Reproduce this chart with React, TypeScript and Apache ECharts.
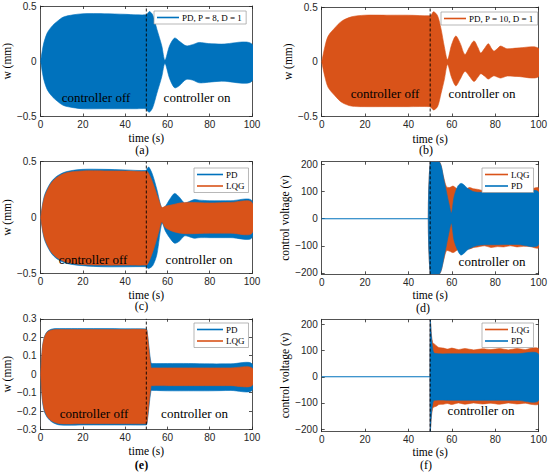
import React, { useEffect, useRef } from "react";
import * as echarts from "echarts";

// ---------- data (envelopes of the dense oscillations) ----------
const BLUE = "#0072BD";
const ORANGE = "#D95319";
const switchTime = 50;

// (a) PD, P = 8, D = 1
const tA = [0, 0.9, 1.7, 3.2, 5.5, 7.8, 10.8, 15.4, 20, 30, 40, 45, 49.9, 50.5, 51.5, 53, 55, 57.3, 58.8, 61, 63.4, 65.7, 68.8, 71.8, 75, 79.4, 85.5, 100];
const upA = [0, 0.11, 0.18, 0.26, 0.32, 0.36, 0.4, 0.42, 0.43, 0.43, 0.425, 0.42, 0.42, 0.43, 0.45, 0.42, 0.29, 0.14, 0.01, 0.14, 0.21, 0.18, 0.14, 0.15, 0.17, 0.16, 0.155, 0.155];
const loA = [0, -0.11, -0.18, -0.26, -0.32, -0.36, -0.4, -0.42, -0.43, -0.43, -0.43, -0.43, -0.43, -0.45, -0.46, -0.42, -0.29, -0.14, -0.02, -0.155, -0.24, -0.22, -0.165, -0.17, -0.195, -0.19, -0.18, -0.18];

// (b) PD, P = 10, D = 1
const tB = [0, 1.5, 3, 6.1, 9.2, 13.7, 19.8, 30, 40, 49.9, 50.5, 51.6, 53.4, 55, 56.5, 58, 59.8, 61.8, 63.8, 66, 68, 70.2, 72, 73.3, 75, 76.8, 78.3, 79.4, 81, 82.4, 84, 85.5, 90, 100];
const upB = [0, 0.14, 0.235, 0.31, 0.37, 0.41, 0.425, 0.425, 0.425, 0.42, 0.43, 0.457, 0.42, 0.3, 0.14, 0.02, 0.15, 0.235, 0.17, 0.066, 0.13, 0.19, 0.13, 0.08, 0.12, 0.165, 0.12, 0.097, 0.12, 0.143, 0.13, 0.118, 0.125, 0.12];
const loB = [0, -0.14, -0.235, -0.31, -0.37, -0.405, -0.41, -0.41, -0.41, -0.41, -0.42, -0.44, -0.41, -0.29, -0.165, -0.026, -0.14, -0.22, -0.16, -0.088, -0.13, -0.18, -0.14, -0.109, -0.13, -0.158, -0.14, -0.128, -0.14, -0.149, -0.14, -0.13, -0.134, -0.134];

// (c) PD and LQG displacement
const tC1 = [0, 1.7, 4.7, 7.8, 12.3, 20, 30, 40, 49.9, 50.5, 51.2, 53, 55, 57.4, 59, 61, 63.4, 65.7, 68, 70, 72.6, 75, 80, 90, 100];
const upC1 = [0, 0.19, 0.31, 0.37, 0.41, 0.43, 0.43, 0.425, 0.42, 0.44, 0.45, 0.38, 0.25, 0.08, 0.1, 0.16, 0.215, 0.18, 0.13, 0.14, 0.16, 0.155, 0.15, 0.15, 0.15];
const loC1 = [0, -0.19, -0.31, -0.37, -0.41, -0.43, -0.44, -0.44, -0.44, -0.45, -0.455, -0.43, -0.33, -0.05, -0.12, -0.18, -0.23, -0.21, -0.165, -0.17, -0.185, -0.18, -0.18, -0.18, -0.18];
const tC2 = [0, 1.7, 4.7, 7.8, 12.3, 20, 30, 40, 49.9, 50.5, 52, 54, 56, 57.3, 59, 62.6, 66, 70, 80, 90, 100];
const upC2 = [0, 0.175, 0.3, 0.36, 0.4, 0.416, 0.416, 0.415, 0.41, 0.41, 0.36, 0.26, 0.15, 0.09, 0.1, 0.115, 0.13, 0.135, 0.13, 0.135, 0.135];
const loC2 = [0, -0.175, -0.3, -0.36, -0.4, -0.42, -0.425, -0.425, -0.425, -0.42, -0.36, -0.25, -0.12, -0.04, -0.09, -0.125, -0.14, -0.145, -0.14, -0.14, -0.14];

// (d) control voltage
const tD0 = [0, 50];
const vD0 = [0, 0];
const tD1 = [50, 54.2, 56.5, 58.8, 59.8, 61, 62.6, 64.1, 65.5, 67.2, 70.2, 73.3, 80, 90, 100];
const upD1 = [215, 215, 136, 50, 20, 80, 118, 130, 125, 112, 99, 97, 97, 97, 97];
const loD1 = [-215, -215, -136, -45, -17, -80, -115, -134, -128, -115, -103, -97, -96, -95, -96];
const tD2 = [50, 54.2, 56, 57.5, 59, 60.5, 62, 64, 66, 68, 70, 72, 75, 78, 81, 84, 87, 90, 93, 96, 100];
const upD2 = [215, 215, 160, 118, 115, 120, 112, 102, 105, 115, 110, 108, 103, 110, 104, 108, 103, 107, 104, 108, 112];
const loD2 = [-215, -215, -160, -118, -120, -125, -118, -108, -108, -112, -106, -104, -100, -106, -103, -104, -100, -104, -102, -103, -106];

// (e) PD and LQG displacement
const tE = [0, 0.8, 1.7, 3.2, 5.5, 9, 20, 30, 40, 49.9, 50.3, 52.2, 53, 60, 70, 80, 90, 100];
const upE1 = [0, 0.14, 0.2, 0.232, 0.245, 0.247, 0.247, 0.247, 0.246, 0.245, 0.24, 0.062, 0.058, 0.058, 0.058, 0.056, 0.056, 0.056];
const loE1 = [0, -0.14, -0.2, -0.235, -0.26, -0.275, -0.275, -0.275, -0.275, -0.275, -0.27, -0.09, -0.088, -0.09, -0.09, -0.09, -0.088, -0.088];
const upE2 = [0, 0.14, 0.196, 0.229, 0.24, 0.242, 0.242, 0.242, 0.242, 0.242, 0.235, 0.035, 0.034, 0.034, 0.034, 0.034, 0.034, 0.034];
const loE2 = [0, -0.13, -0.19, -0.23, -0.255, -0.268, -0.268, -0.268, -0.268, -0.268, -0.262, -0.064, -0.062, -0.062, -0.062, -0.062, -0.062, -0.062];

// (f) control voltage
const tF0 = [0, 50];
const vF0 = [0, 0];
const tF2 = [50, 50.6, 51.2, 52, 53, 54, 56, 58, 60, 63, 66, 70, 74, 78, 82, 86, 90, 94, 97, 100];
const upF2 = [225, 160, 130, 125, 118, 112, 110, 106, 110, 104, 108, 103, 107, 104, 108, 103, 108, 104, 110, 106];
const loF2 = [-215, -150, -120, -115, -112, -106, -105, -102, -106, -100, -105, -100, -104, -101, -105, -100, -104, -101, -106, -103];
const tF1 = [50, 50.6, 51.2, 52, 60, 70, 80, 90, 100];
const upF1 = [225, 150, 105, 90, 88, 88, 88, 88, 86];
const loF1 = [-215, -140, -100, -90, -90, -90, -90, -90, -90];

const xTicks = [0, 20, 40, 60, 80, 100];
const yTicksW5 = [-0.5, 0, 0.5];
const yTicksW3 = [-0.3, -0.2, -0.1, 0, 0.1, 0.2, 0.3];
const yTicksV = [-200, -100, 0, 100, 200];
const captions = ["(a)", "(b)", "(c)", "(d)", "(e)", "(f)"];

// ---------- layout ----------
const SANS = "'Liberation Sans', Arial, sans-serif";
const SERIF = "'Liberation Serif', 'Times New Roman', serif";
const AX = "#262626";

type P = { left: number; top: number; width: number; height: number; min: number; max: number; ticks: number[]; yname: string; ygap: number; xgap: number };
const panels: P[] = [
  { left: 33, top: 6, width: 219, height: 110.5, min: -0.5, max: 0.5, ticks: yTicksW5, yname: "w (mm)", ygap: 15, xgap: 15 },
  { left: 321.7, top: 7, width: 218.3, height: 109.5, min: -0.5, max: 0.5, ticks: yTicksW5, yname: "w (mm)", ygap: 15, xgap: 16 },
  { left: 33, top: 161.5, width: 219, height: 112, min: -0.5, max: 0.5, ticks: yTicksW5, yname: "w (mm)", ygap: 15, xgap: 15 },
  { left: 321.7, top: 161.7, width: 218.3, height: 112.6, min: -205, max: 210, ticks: yTicksV, yname: "control voltage (v)", ygap: 20, xgap: 15 },
  { left: 33, top: 318.8, width: 219, height: 110.8, min: -0.3, max: 0.3, ticks: yTicksW3, yname: "w (mm)", ygap: 15, xgap: 15 },
  { left: 321.7, top: 319.3, width: 218.3, height: 112.4, min: -210, max: 220, ticks: yTicksV, yname: "control voltage (v)", ygap: 20, xgap: 14 },
];

const fmt = (v: number) => (v < 0 ? "\u2212" + Math.abs(v) : String(v));

// a band (envelope of a dense oscillation) drawn as one polygon through the axes' scales
function band(name: string, color: string, t: number[], up: number[], lo: number[], gi: number) {
  const data = t.map((x, i) => [x, up[i], lo[i]]);
  return {
    type: "custom",
    name,
    xAxisIndex: gi * 2,
    yAxisIndex: gi * 2,
    silent: true,
    clip: true,
    itemStyle: { color },
    encode: { x: 0, y: [1, 2] },
    data,
    renderItem: (params: any, api: any) => {
      if (params.dataIndex !== 0) return null;
      const upper = data.map((d) => api.coord([d[0], d[1]]));
      const lower = data.map((d) => api.coord([d[0], d[2]])).reverse();
      const cs = params.coordSys;
      const pts = echarts.graphic.clipPointsByRect(upper.concat(lower), { x: cs.x, y: cs.y, width: cs.width, height: cs.height });
      return {
        type: "polygon",
        shape: { points: pts, smooth: 0.3 },
        style: { fill: color, stroke: color, lineWidth: 0.6 },
      };
    },
  };
}

function plainLine(t: number[], v: number[], gi: number, color: string, width: number, dashed = false) {
  return {
    type: "line",
    name: "line" + gi + (dashed ? "d" : ""),
    xAxisIndex: gi * 2,
    yAxisIndex: gi * 2,
    data: t.map((x, i) => [x, v[i]]),
    symbol: "none",
    silent: true,
    z: dashed ? 5 : 2,
    lineStyle: { color, width, type: dashed ? [3, 2] : "solid" },
  };
}

function dashedSwitch(gi: number) {
  const p = panels[gi];
  return plainLine([switchTime, switchTime], [p.min, p.max], gi, "#000", 0.9, true);
}

function legend(left: number, top: number, items: { name: string; color: string }[], w: number) {
  return {
    left,
    top,
    orient: "vertical",
    selectedMode: false,
    itemWidth: w,
    itemHeight: 1.6,
    itemGap: 1.5,
    padding: [1.5, 4, 1.5, 3],
    backgroundColor: "#fff",
    borderColor: "#9a9a9a",
    borderWidth: 0.7,
    textStyle: { fontFamily: SERIF, fontSize: 9, color: "#000", lineHeight: 10, padding: [0, 0, 0, -2] },
    data: items.map((it) => ({ name: it.name, icon: "rect", itemStyle: { color: it.color } })),
  };
}

export default function App() {
  const ref = useRef<HTMLDivElement>(null);
  useEffect(() => {
    document.body.style.margin = "0";
    if (!ref.current) return;
    const chart = echarts.init(ref.current, undefined, { renderer: "svg" });

    const grid = panels.map((p) => ({ left: p.left, top: p.top, width: p.width, height: p.height }));
    const xAxis: any[] = [];
    const yAxis: any[] = [];
    panels.forEach((p, i) => {
      const common = {
        gridIndex: i,
        type: "value",
        splitLine: { show: false },
        axisLine: { show: true, onZero: false, lineStyle: { color: AX, width: 0.8 } },
      };
      xAxis.push({
        ...common,
        min: 0,
        max: 100,
        interval: 20,
        position: "bottom",
        axisTick: { show: true, inside: true, length: 3, lineStyle: { color: AX, width: 0.8 } },
        axisLabel: { show: true, fontFamily: SANS, fontSize: 10, color: AX, margin: 3, formatter: fmt, customValues: xTicks },
        name: "time (s)",
        nameLocation: "middle",
        nameGap: p.xgap,
        nameTextStyle: { fontFamily: SERIF, fontSize: 11.5, color: "#000" },
      });
      xAxis.push({
        ...common,
        min: 0,
        max: 100,
        interval: 20,
        position: "top",
        axisTick: { show: true, inside: true, length: 3, lineStyle: { color: AX, width: 0.8 } },
        axisLabel: { show: false },
      });
      yAxis.push({
        ...common,
        min: p.min,
        max: p.max,
        position: "left",
        axisTick: { show: true, inside: true, length: 3, customValues: p.ticks, lineStyle: { color: AX, width: 0.8 } },
        axisLabel: { show: true, fontFamily: SANS, fontSize: 10, color: AX, margin: 4, customValues: p.ticks, formatter: fmt },
        name: p.yname,
        nameLocation: "middle",
        nameGap: p.ygap,
        nameTextStyle: { fontFamily: SERIF, fontSize: 11.5, color: "#000" },
      });
      yAxis.push({
        ...common,
        min: p.min,
        max: p.max,
        position: "right",
        axisTick: { show: true, inside: true, length: 3, customValues: p.ticks, lineStyle: { color: AX, width: 0.8 } },
        axisLabel: { show: false, customValues: p.ticks },
      });
    });

    const series: any[] = [
      band("PD, P = 8, D = 1", BLUE, tA, upA, loA, 0),
      dashedSwitch(0),
      band("PD, P = 10, D = 1", ORANGE, tB, upB, loB, 1),
      dashedSwitch(1),
      band("PD", BLUE, tC1, upC1, loC1, 2),
      band("LQG", ORANGE, tC2, upC2, loC2, 2),
      dashedSwitch(2),
      plainLine(tD0, vD0, 3, BLUE, 1.1),
      band("LQG", ORANGE, tD2, upD2, loD2, 3),
      band("PD", BLUE, tD1, upD1, loD1, 3),
      dashedSwitch(3),
      band("PD", BLUE, tE, upE1, loE1, 4),
      band("LQG", ORANGE, tE, upE2, loE2, 4),
      dashedSwitch(4),
      plainLine(tF0, vF0, 5, BLUE, 1.1),
      band("LQG", ORANGE, tF2, upF2, loF2, 5),
      band("PD", BLUE, tF1, upF1, loF1, 5),
      dashedSwitch(5),
    ];

    const pd = { name: "PD", color: BLUE };
    const lqg = { name: "LQG", color: ORANGE };
    const legends = [
      legend(154, 11, [{ name: "PD, P = 8, D = 1", color: BLUE }], 22),
      legend(441, 12, [{ name: "PD, P = 10, D = 1", color: ORANGE }], 22),
      legend(194, 168, [pd, lqg], 26),
      legend(482, 168, [lqg, pd], 23),
      legend(194, 323, [pd, lqg], 26),
      legend(482, 323, [lqg, pd], 23),
    ];

    const txt = (x: number, y: number, text: string, size: number, bold = false) => ({
      type: "text",
      x,
      y,
      silent: true,
      z: 100,
      style: {
        text,
        font: (bold ? "bold " : "") + size + "px 'Liberation Serif', 'Times New Roman', serif",
        fill: "#000",
        align: "center",
        verticalAlign: "middle",
        textAlign: "center",
        textVerticalAlign: "middle",
      },
    });

    const graphic = [
      txt(96, 97, "controller off", 13),
      txt(197, 97, "controller on", 13),
      txt(385, 93, "controller off", 13),
      txt(482, 93, "controller on", 13),
      txt(93, 259, "controller off", 13),
      txt(199, 259, "controller on", 13),
      txt(492, 261, "controller on", 13),
      txt(94, 413, "controller off", 13),
      txt(194.5, 413, "controller on", 13),
      txt(481, 410, "controller on", 13),
      txt(142, 150, captions[0], 12),
      txt(426, 150, captions[1], 12),
      txt(141.5, 306, captions[2], 12),
      txt(423, 308, captions[3], 12),
      txt(141.5, 465, captions[4], 12, true),
      txt(426, 465, captions[5], 12),
    ];

    chart.setOption({
      animation: false,
      backgroundColor: "#fff",
      grid,
      xAxis,
      yAxis,
      legend: legends,
      series,
      graphic,
    });
    return () => chart.dispose();
  }, []);
  return <div ref={ref} style={{ width: 550, height: 476 }} />;
}
